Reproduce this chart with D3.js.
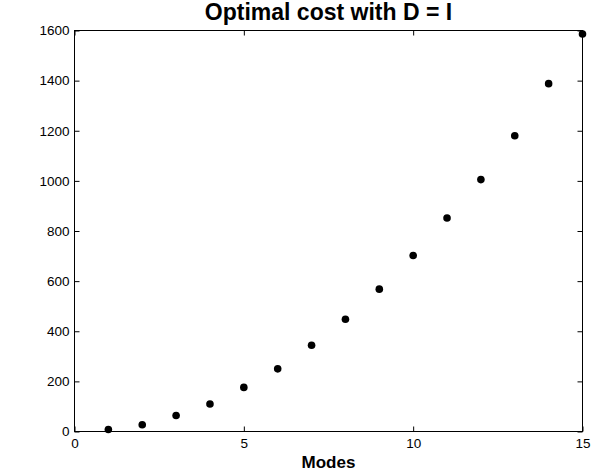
<!DOCTYPE html>
<html>
<head>
<meta charset="utf-8">
<script src="https://cdn.jsdelivr.net/npm/d3@7"></script>
<style>
  body { margin: 0; background: #fff; }
  text { font-family: "Liberation Sans", Arial, Helvetica, sans-serif; fill: #000; }
  .axis text { font-size: 13.5px; }
  .axis line { stroke: #000; }
  .axis path { display: none; }
</style>
</head>
<body>
<div id="chart"></div>
<script>
var width = 601,
    height = 476;

// data
var modes = [1, 2, 3, 4, 5, 6, 7, 8, 9, 10, 11, 12, 13, 14, 15];
var cost = [8, 27, 64, 110, 176, 250, 344, 448, 568, 702, 852, 1005, 1180, 1388, 1586];
var xTicks = [0, 5, 10, 15];
var yTicks = [0, 200, 400, 600, 800, 1000, 1200, 1400, 1600];

var x = d3.scaleLinear()
    .domain([0, 15])
    .range([74.5, 582.5]);

var y = d3.scaleLinear()
    .domain([0, 1600])
    .range([431.5, 30.5]);

var svg = d3.select("#chart").append("svg")
    .attr("width", width)
    .attr("height", height);

// bottom axis (ticks pointing inward)
svg.append("g")
    .attr("class", "axis")
    .attr("transform", "translate(0," + y(0) + ")")
    .call(d3.axisBottom(x).tickValues(xTicks).tickSize(-5).tickPadding(7).tickFormat(d3.format("d")));

// top ticks, no labels
svg.append("g")
    .attr("class", "axis")
    .attr("transform", "translate(0," + y(1600) + ")")
    .call(d3.axisTop(x).tickValues(xTicks).tickSize(-5).tickFormat(""));

// left axis
svg.append("g")
    .attr("class", "axis")
    .attr("transform", "translate(" + x(0) + ",0)")
    .call(d3.axisLeft(y).tickValues(yTicks).tickSize(-5).tickPadding(5).tickFormat(d3.format("d")));

// right ticks
svg.append("g")
    .attr("class", "axis")
    .attr("transform", "translate(" + x(15) + ",0)")
    .call(d3.axisRight(y).tickValues(yTicks).tickSize(-5).tickFormat(""));

// box
svg.append("rect")
    .attr("x", x(0))
    .attr("y", y(1600))
    .attr("width", x(15) - x(0))
    .attr("height", y(0) - y(1600))
    .attr("fill", "none")
    .attr("stroke", "#000")
    .attr("stroke-width", 1);

// points
svg.selectAll("circle.pt")
    .data(modes)
    .enter().append("circle")
    .attr("class", "pt")
    .attr("cx", function (d) { return x(d); })
    .attr("cy", function (d, i) { return y(cost[i]); })
    .attr("r", 3.8)
    .attr("fill", "#000");

// title
svg.append("text")
    .attr("x", (x(0) + x(15)) / 2)
    .attr("y", 20)
    .attr("text-anchor", "middle")
    .style("font-size", "23px")
    .style("font-weight", "bold")
    .text("Optimal cost with D = I");

// x label
svg.append("text")
    .attr("x", (x(0) + x(15)) / 2)
    .attr("y", 468)
    .attr("text-anchor", "middle")
    .style("font-size", "17px")
    .style("font-weight", "bold")
    .text("Modes");
</script>
</body>
</html>
